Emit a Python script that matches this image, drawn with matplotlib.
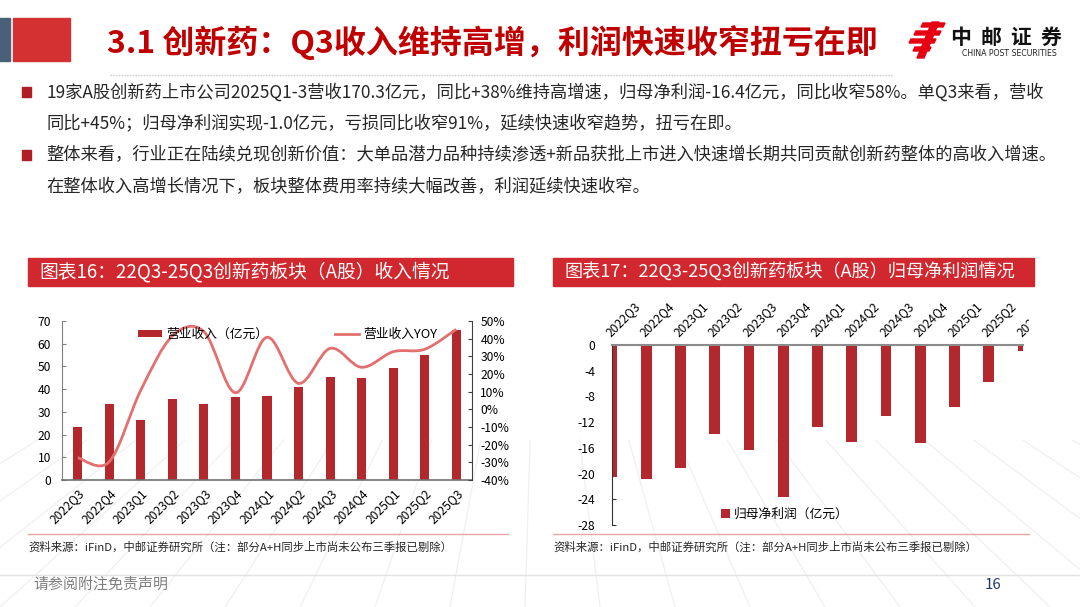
import numpy as np
import matplotlib.pyplot as plt
from matplotlib.patches import Rectangle, Polygon, PathPatch
from matplotlib.path import Path
from matplotlib.lines import Line2D
from matplotlib.transforms import Bbox, TransformedBbox

plt.rcParams['font.family'] = ['Noto Sans CJK SC', 'DejaVu Sans']
plt.rcParams['axes.unicode_minus'] = False

# data
quarters = ["2022Q3", "2022Q4", "2023Q1", "2023Q2", "2023Q3", "2023Q4", "2024Q1",
            "2024Q2", "2024Q3", "2024Q4", "2025Q1", "2025Q2", "2025Q3"]
revenue = [23.5, 33.3, 26.3, 35.7, 33.6, 36.4, 37.2, 41.1, 45.4, 44.9, 49.2, 55.1, 65.9]
revenue_yoy = [-27.4, -29.6, 10.9, 41.5, 44.0, 9.4, 40.8, 14.7, 34.5, 23.8, 32.6, 34.0, 45.3]
net_profit = [-20.5, -20.9, -19.2, -13.8, -16.3, -23.7, -12.7, -15.1, -11.1, -15.3, -9.6, -5.8, -1.0]

title = "3.1 创新药：Q3收入维持高增，利润快速收窄扭亏在即"
bullets = [
    ["19家A股创新药上市公司2025Q1-3营收170.3亿元，同比+38%维持高增速，归母净利润-16.4亿元，同比收窄58%。单Q3来看，营收",
     "同比+45%；归母净利润实现-1.0亿元，亏损同比收窄91%，延续快速收窄趋势，扭亏在即。"],
    ["整体来看，行业正在陆续兑现创新价值：大单品潜力品种持续渗透+新品获批上市进入快速增长期共同贡献创新药整体的高收入增速。",
     "在整体收入高增长情况下，板块整体费用率持续大幅改善，利润延续快速收窄。"],
]
chart1_title = "图表16：22Q3-25Q3创新药板块（A股）收入情况"
chart2_title = "图表17：22Q3-25Q3创新药板块（A股）归母净利润情况"
source = "资料来源：iFinD，中邮证券研究所（注：部分A+H同步上市尚未公布三季报已剔除）"

bar_red = "#b2282d"
line_red = "#e46f6f"
head_red = "#d0282e"

W, H = 1080, 607
fig = plt.figure(figsize=(W / 100, H / 100), dpi=100)

# background axes in pixel coordinates
bg = fig.add_axes([0, 0, 1, 1])
bg.set_xlim(0, W)
bg.set_ylim(H, 0)
bg.axis("off")


def px_axes(x0, y0, x1, y1):
    return fig.add_axes([x0 / W, 1 - y1 / H, (x1 - x0) / W, (y1 - y0) / H])


# faint floor lines at the bottom
for xb in np.arange(-300, 1400, 75):
    vx, vy = 540, 120
    t0 = (440 - vy) / (607 - vy)
    bg.plot([vx + (xb - vx) * t0, xb], [440, 607], color="#f0f0f0", lw=0.9, zorder=0)

# header
bg.add_patch(Rectangle((0, 18), 10, 43, color="#4a6079"))
bg.add_patch(Rectangle((13, 18), 57, 43, color="#d43133"))
bg.text(107, 43, title, fontsize=23, fontweight="bold", color="#c00000", va="center", ha="left")
bg.plot([110, 893], [75, 75], color="#c8c8c8", lw=1, ls=(0, (1, 1)))

# logo
for x0, y0, ln in [(921, 23, 24), (914, 31, 27), (909, 39, 27), (913, 47, 18)]:
    bg.add_patch(Polygon([(x0, y0 + 4), (x0 + 2, y0), (x0 + ln, y0), (x0 + ln - 2, y0 + 4)],
                         closed=True, color="#e60012"))
bg.add_patch(Polygon([(932, 22), (939, 22), (924, 58), (917, 58)], closed=True, color="#e60012"))
for i, ch in enumerate("中邮证券"):
    bg.text(961 + i * 30, 37, ch, fontsize=15, fontweight="bold", color="#111111", ha="center", va="center")
bg.text(1009, 53, "CHINA POST SECURITIES", fontsize=5.6, color="#222222", ha="center", va="center",
        family="DejaVu Sans")

# bullet text
ys = [92, 124, 155, 187]
k = 0
for para in bullets:
    bg.add_patch(Rectangle((22, ys[k] - 5), 9, 10, color="#b01e23"))
    for line in para:
        bg.text(46, ys[k], line, fontsize=12.45, color="#262626", va="center", ha="left")
        k += 1

# chart title bars and source notes
for x0, x1, t, fs in [(28, 513, chart1_title, 13.5), (553, 1034, chart2_title, 13.1)]:
    bg.add_patch(Rectangle((x0, 258), x1 - x0, 28, color=head_red))
    bg.text(x0 + 11, 272, t, fontsize=fs, color="white", va="center", ha="left")
    bg.plot([x0, x1 - 5], [534, 534], color="#e8a4a4", lw=1)
    bg.text(x0, 547, source, fontsize=8.2, color="#262626", va="center", ha="left")

# footer
bg.plot([0, W], [575, 575], color="#e2e2e2", lw=1)
bg.text(33, 585, "请参阅附注免责声明", fontsize=10.8, color="#7f7f7f", va="center", ha="left")
bg.text(993, 585, "16", fontsize=10.8, color="#1f3864", va="center", ha="center")

# ---- chart 16: revenue + yoy ----
x = np.arange(len(quarters))
ax = px_axes(62, 321, 472, 480)
ax.bar(x, revenue, width=0.29, color=bar_red, zorder=2)
ax.set_xlim(-0.5, len(quarters) - 0.5)
ax.set_ylim(0, 70)
ax.set_yticks(range(0, 71, 10))
ax.set_xticks(x)
ax.set_xticklabels(quarters, rotation=45, ha="right", rotation_mode="anchor", fontsize=8.7)
ax.tick_params(axis="x", length=0, pad=5)
ax.tick_params(axis="y", direction="in", length=3, color="#808080", labelsize=8.7, pad=8)
ax.spines["top"].set_visible(False)
ax.spines["right"].set_visible(False)
ax.spines["left"].set_color("#808080")
ax.spines["bottom"].set_color("#707070")
ax.spines["bottom"].set_linewidth(1.2)
ax.patch.set_alpha(0)

ax2 = ax.twinx()
ax2.set_ylim(-40, 50)
ax2.set_yticks(range(-40, 51, 10))
ax2.set_yticklabels([f"{v}%" for v in range(-40, 51, 10)])
ax2.tick_params(axis="y", direction="in", length=3, color="#404040", labelsize=8.7, pad=6)
for s in ["top", "left", "bottom"]:
    ax2.spines[s].set_visible(False)
ax2.spines["right"].set_color("#404040")


def smooth_path(xs, ys):
    # cubic bezier through the points, like a smoothed office line
    px = np.r_[xs[0], xs, xs[-1]].astype(float)
    py = np.r_[ys[0], ys, ys[-1]].astype(float)
    verts = [(px[1], py[1])]
    codes = [Path.MOVETO]
    for j in range(1, len(xs)):
        c1 = (px[j] + (px[j + 1] - px[j - 1]) / 6, py[j] + (py[j + 1] - py[j - 1]) / 6)
        c2 = (px[j + 1] - (px[j + 2] - px[j]) / 6, py[j + 1] - (py[j + 2] - py[j]) / 6)
        verts += [c1, c2, (px[j + 1], py[j + 1])]
        codes += [Path.CURVE4] * 3
    return Path(verts, codes)


ax2.add_patch(PathPatch(smooth_path(x, revenue_yoy), fill=False, ec=line_red, lw=2, zorder=3))

handles = [Rectangle((0, 0), 1, 1, fc=bar_red, ec="none"), Line2D([], [], color=line_red, lw=2)]
ax2.legend(handles, ["营业收入（亿元）", "营业收入YOY"], loc="upper center", bbox_to_anchor=(0.55, 1.03),
           ncol=2, frameon=False, fontsize=9.2, handlelength=1.9, handleheight=0.45,
           columnspacing=5.2, handletextpad=0.3)

# ---- chart 17: net profit ----
bx = px_axes(612, 345, 1023, 525)
bx.bar(x, net_profit, width=0.32, color=bar_red, zorder=2)
bx.set_xlim(0, len(quarters) - 1)
bx.set_ylim(-28, 0)
bx.set_yticks(range(0, -29, -4))
bx.xaxis.tick_top()
bx.set_xticks(x)
labels = bx.set_xticklabels(quarters, rotation=45, ha="left", va="bottom", rotation_mode="anchor", fontsize=8.7)
clip = TransformedBbox(Bbox.from_extents(0, 0, 1029 / W, 1), fig.transFigure)
for lab in labels:
    lab.set_clip_box(clip)
    lab.set_clip_on(True)
bx.tick_params(axis="x", length=0, pad=4)
bx.tick_params(axis="y", direction="in", length=3, color="#333333", labelsize=8.7, pad=12)
bx.spines["right"].set_visible(False)
bx.spines["bottom"].set_visible(False)
bx.spines["top"].set_color("#8c8c8c")
bx.spines["top"].set_linewidth(1.5)
bx.spines["left"].set_color("#333333")
bx.patch.set_alpha(0)
bx.legend([Rectangle((0, 0), 1, 1, fc=bar_red, ec="none")], ["归母净利润（亿元）"], loc="center",
          bbox_to_anchor=(0.42, 0.058), frameon=False, fontsize=9.2, handlelength=0.7,
          handleheight=0.7, handletextpad=0.3)

fig.savefig("out.png", dpi=100)
